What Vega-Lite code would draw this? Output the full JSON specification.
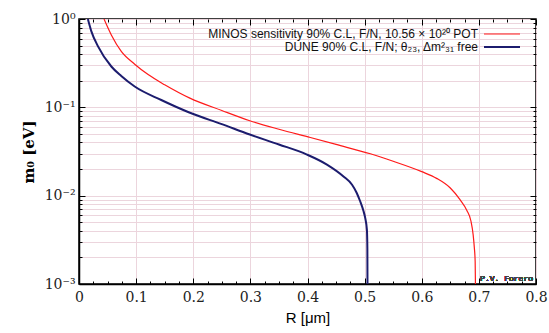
{
  "$schema": "https://vega.github.io/schema/vega-lite/v6.json",
  "width": 457,
  "height": 265,
  "autosize": {"type": "none"},
  "padding": {"left": 79, "top": 19, "right": 13, "bottom": 49},
  "background": "white",
  "config": {
    "view": {"stroke": "black", "strokeWidth": 1.5},
    "axis": {"domainColor": "black", "domainWidth": 1.5, "tickColor": "black", "tickWidth": 1, "gridColor": "#ecd5dd", "gridWidth": 1, "gridOpacity": 1}
  },
  "data": {"values": [
    {"series": "MINOS", "R": 0.0438, "m0": 1.0},
    {"series": "MINOS", "R": 0.0566, "m0": 0.66},
    {"series": "MINOS", "R": 0.074, "m0": 0.43},
    {"series": "MINOS", "R": 0.0975, "m0": 0.308},
    {"series": "MINOS", "R": 0.121, "m0": 0.235},
    {"series": "MINOS", "R": 0.15, "m0": 0.18},
    {"series": "MINOS", "R": 0.194, "m0": 0.127},
    {"series": "MINOS", "R": 0.25, "m0": 0.092},
    {"series": "MINOS", "R": 0.299, "m0": 0.0705},
    {"series": "MINOS", "R": 0.35, "m0": 0.0565},
    {"series": "MINOS", "R": 0.405, "m0": 0.0455},
    {"series": "MINOS", "R": 0.45, "m0": 0.038},
    {"series": "MINOS", "R": 0.51, "m0": 0.0298},
    {"series": "MINOS", "R": 0.55, "m0": 0.0245},
    {"series": "MINOS", "R": 0.6, "m0": 0.0187},
    {"series": "MINOS", "R": 0.626, "m0": 0.0157},
    {"series": "MINOS", "R": 0.65, "m0": 0.0122},
    {"series": "MINOS", "R": 0.667, "m0": 0.0090},
    {"series": "MINOS", "R": 0.679, "m0": 0.0068},
    {"series": "MINOS", "R": 0.686, "m0": 0.0052},
    {"series": "MINOS", "R": 0.69, "m0": 0.0036},
    {"series": "MINOS", "R": 0.692, "m0": 0.0026},
    {"series": "MINOS", "R": 0.6935, "m0": 0.0018},
    {"series": "MINOS", "R": 0.694, "m0": 0.001},
    {"series": "DUNE", "R": 0.0155, "m0": 1.0},
    {"series": "DUNE", "R": 0.0215, "m0": 0.73},
    {"series": "DUNE", "R": 0.0333, "m0": 0.49},
    {"series": "DUNE", "R": 0.0566, "m0": 0.29},
    {"series": "DUNE", "R": 0.074, "m0": 0.226},
    {"series": "DUNE", "R": 0.0975, "m0": 0.172},
    {"series": "DUNE", "R": 0.144, "m0": 0.121},
    {"series": "DUNE", "R": 0.192, "m0": 0.088},
    {"series": "DUNE", "R": 0.25, "m0": 0.0645},
    {"series": "DUNE", "R": 0.299, "m0": 0.0492},
    {"series": "DUNE", "R": 0.35, "m0": 0.038},
    {"series": "DUNE", "R": 0.399, "m0": 0.0292},
    {"series": "DUNE", "R": 0.434, "m0": 0.0225},
    {"series": "DUNE", "R": 0.463, "m0": 0.0165},
    {"series": "DUNE", "R": 0.478, "m0": 0.0133},
    {"series": "DUNE", "R": 0.486, "m0": 0.0108},
    {"series": "DUNE", "R": 0.492, "m0": 0.0087},
    {"series": "DUNE", "R": 0.498, "m0": 0.0067},
    {"series": "DUNE", "R": 0.501, "m0": 0.0056},
    {"series": "DUNE", "R": 0.504, "m0": 0.0041},
    {"series": "DUNE", "R": 0.5048, "m0": 0.0025},
    {"series": "DUNE", "R": 0.505, "m0": 0.001}
  ]},
  "resolve": {"axis": {"x": "independent", "y": "independent"}},
  "layer": [
    {
      "mark": {"type": "line", "clip": true, "interpolate": "monotone"},
      "encoding": {
        "x": {"field": "R", "type": "quantitative",
          "scale": {"domain": [0, 0.8], "nice": false, "zero": false},
          "axis": {
            "title": "R [μm]", "titleFont": "Liberation Sans", "titleFontSize": 15, "titleFontWeight": "normal", "titlePadding": 6,
            "values": [0,0.025,0.05,0.075,0.1,0.125,0.15,0.175,0.2,0.225,0.25,0.275,0.3,0.325,0.35,0.375,0.4,0.425,0.45,0.475,0.5,0.525,0.55,0.575,0.6,0.625,0.65,0.675,0.7,0.725,0.75,0.775,0.8],
            "labelExpr": "abs(datum.value*10 - round(datum.value*10)) < 0.000001 ? format(datum.value, '.1~f') : ''",
            "labelFont": "DejaVu Serif", "labelFontSize": 14, "labelColor": "#222", "labelPadding": 12, "labelFlush": false,
            "tickSize": {"condition": {"test": "abs(datum.value*10 - round(datum.value*10)) < 0.000001", "value": -6}, "value": -3},
            "gridOpacity": {"condition": {"test": "abs(datum.value*10 - round(datum.value*10)) < 0.000001", "value": 1}, "value": 0}
          }},
        "y": {"field": "m0", "type": "quantitative",
          "scale": {"type": "log", "domain": [0.001, 1], "nice": false},
          "axis": {
            "title": "m₀ [eV]", "titleFont": "DejaVu Serif", "titleFontSize": 15, "titleFontWeight": "bold", "titlePadding": 8,
            "values": [0.001,0.002,0.003,0.004,0.005,0.006,0.007,0.008,0.009,0.01,0.02,0.03,0.04,0.05,0.06,0.07,0.08,0.09,0.1,0.2,0.3,0.4,0.5,0.6,0.7,0.8,0.9,1],
            "labelExpr": "datum.value == 1 ? '10⁰' : datum.value == 0.1 ? '10⁻¹' : datum.value == 0.01 ? '10⁻²' : datum.value == 0.001 ? '10⁻³' : ''",
            "labelFont": "DejaVu Serif", "labelFontSize": 14, "labelColor": "#222", "labelPadding": 10, "labelFlush": false,
            "tickSize": {"condition": {"test": "abs(log(datum.value)/log(10) - round(log(datum.value)/log(10))) < 0.000001", "value": -6}, "value": -3}
          }},
        "color": {"field": "series", "type": "nominal",
          "scale": {"domain": ["MINOS", "DUNE"], "range": ["#ff1a1a", "#1c1c6e"]},
          "legend": {
            "orient": "none", "legendX": 416, "legendY": 8, "title": null, "padding": 0,
            "labelExpr": "datum.value == 'MINOS' ? 'MINOS sensitivity 90% C.L, F/N, 10.56 × 10²⁰ POT' : 'DUNE 90% C.L, F/N; θ₂₃, Δm²₃₁ free'",
            "symbolType": "M-3,0H3", "symbolSize": 144, "symbolStrokeWidth": 1.3,
            "labelFont": "Liberation Sans", "labelFontSize": 12, "labelColor": "#111", "labelLimit": 0,
            "labelAlign": "right", "labelOffset": -31, "rowPadding": 0, "symbolOffset": 0
          }},
        "strokeWidth": {"field": "series", "type": "nominal",
          "scale": {"domain": ["MINOS", "DUNE"], "range": [1.2, 2]}, "legend": null}
      }
    },
    {
      "mark": {"type": "line", "opacity": 0, "clip": true},
      "encoding": {
        "detail": {"field": "series"},
        "x": {"field": "R", "type": "quantitative",
          "axis": {
            "orient": "top", "title": null, "labels": false, "grid": false, "domain": false,
            "values": [0,0.025,0.05,0.075,0.1,0.125,0.15,0.175,0.2,0.225,0.25,0.275,0.3,0.325,0.35,0.375,0.4,0.425,0.45,0.475,0.5,0.525,0.55,0.575,0.6,0.625,0.65,0.675,0.7,0.725,0.75,0.775,0.8],
            "tickSize": {"condition": {"test": "abs(datum.value*10 - round(datum.value*10)) < 0.000001", "value": -6}, "value": -3}
          }},
        "y": {"field": "m0", "type": "quantitative",
          "axis": {
            "orient": "right", "title": null, "labels": false, "grid": false, "domain": false,
            "values": [0.001,0.002,0.003,0.004,0.005,0.006,0.007,0.008,0.009,0.01,0.02,0.03,0.04,0.05,0.06,0.07,0.08,0.09,0.1,0.2,0.3,0.4,0.5,0.6,0.7,0.8,0.9,1],
            "tickSize": {"condition": {"test": "abs(log(datum.value)/log(10) - round(log(datum.value)/log(10))) < 0.000001", "value": -6}, "value": -3}
          }}
      }
    },
    {
      "mark": {"type": "text", "font": "Liberation Mono", "fontSize": 8, "align": "right", "baseline": "bottom", "dx": -3, "dy": -1, "color": "#444"},
      "encoding": {
        "x": {"datum": 0.8, "type": "quantitative", "axis": null},
        "y": {"datum": 0.001, "type": "quantitative", "axis": null},
        "text": {"value": "P.V. Forero"}
      }
    }
  ]
}
